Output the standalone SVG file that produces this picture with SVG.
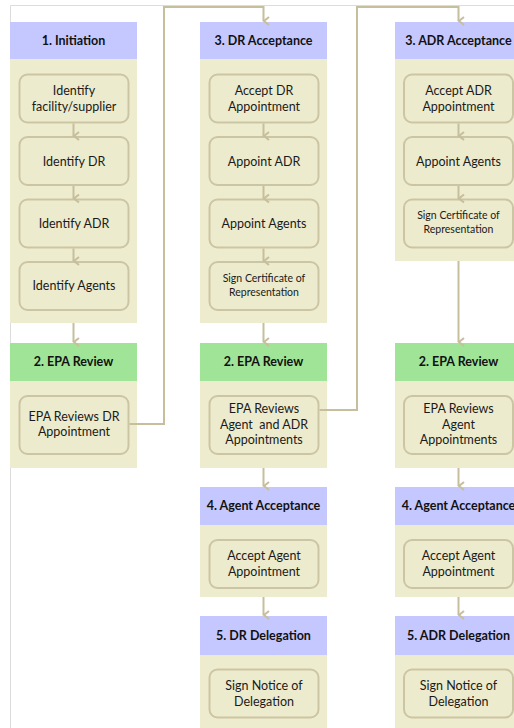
<svg xmlns="http://www.w3.org/2000/svg" width="514" height="728" viewBox="0 0 514 728">
<defs>
<marker id="arr" markerWidth="10" markerHeight="10" refX="5" refY="7.5" orient="auto-start-reverse" markerUnits="userSpaceOnUse" viewBox="0 0 10 10">
<path d="M1,2 L5,7 L9,2" fill="none" stroke="#C6BE9C" stroke-width="2"/>
</marker>
<style>
.bg{fill:#ffffff}
.frame{fill:none;stroke:#DCDCDC;stroke-width:1}
.hb{fill:#C5C8FF}
.hg{fill:#9FE497}
.body{fill:#EEECCE}
.node{fill:#EDEBCD;stroke:#CBC5A4;stroke-width:2}
.ht{font-family:"Lato","Liberation Sans",sans-serif;font-weight:bold;font-size:12.5px;fill:#111;text-anchor:middle}
.nt{font-family:"Lato","Liberation Sans",sans-serif;font-size:12.5px;fill:#1a1a1a;text-anchor:middle}
.st{font-family:"Lato","Liberation Sans",sans-serif;font-size:10.5px;fill:#1a1a1a;text-anchor:middle}
.c{fill:none;stroke:#C6BE9C;stroke-width:2;marker-end:url(#arr)}
</style>
</defs>
<rect class="bg" x="0" y="0" width="514" height="728"/>
<path class="frame" d="M10.5,728 V5.5 H514"/>

<!-- Column 1 -->
<g id="phase-initiation">
<rect class="hb" x="10" y="22" width="127" height="37"/>
<text class="ht" x="73.5" y="45">1. Initiation</text>
<rect class="body" x="10" y="59" width="127" height="264"/>
</g>
<g id="n-identify-facility"><rect class="node" x="19.5" y="74.5" width="109" height="48" rx="8"/><text class="nt" x="74" y="94.5">Identify</text><text class="nt" x="74" y="110.5">facility/supplier</text></g>
<g id="n-identify-dr"><rect class="node" x="19.5" y="137" width="109" height="48" rx="8"/><text class="nt" x="74" y="165.5">Identify DR</text></g>
<g id="n-identify-adr"><rect class="node" x="19.5" y="199.5" width="109" height="48" rx="8"/><text class="nt" x="74" y="227.5">Identify ADR</text></g>
<g id="n-identify-agents"><rect class="node" x="19.5" y="262" width="109" height="48" rx="8"/><text class="nt" x="74" y="290">Identify Agents</text></g>

<g id="phase-epa-review-1">
<rect class="hg" x="10" y="343" width="127" height="38"/>
<text class="ht" x="73.5" y="366">2. EPA Review</text>
<rect class="body" x="10" y="381" width="127" height="87"/>
</g>
<g id="n-epa-reviews-dr"><rect class="node" x="19.5" y="396" width="109" height="58" rx="8"/><text class="nt" x="74" y="420.5">EPA Reviews DR</text><text class="nt" x="74" y="436">Appointment</text></g>

<!-- Column 2 -->
<g id="phase-dr-acceptance">
<rect class="hb" x="200" y="22" width="127" height="37"/>
<text class="ht" x="263.5" y="45">3. DR Acceptance</text>
<rect class="body" x="200" y="59" width="127" height="264"/>
</g>
<g id="n-accept-dr"><rect class="node" x="209.5" y="74.5" width="109" height="48" rx="8"/><text class="nt" x="264" y="94.5">Accept DR</text><text class="nt" x="264" y="110.5">Appointment</text></g>
<g id="n-appoint-adr"><rect class="node" x="209.5" y="137" width="109" height="48" rx="8"/><text class="nt" x="264" y="165.5">Appoint ADR</text></g>
<g id="n-appoint-agents-2"><rect class="node" x="209.5" y="199.5" width="109" height="48" rx="8"/><text class="nt" x="264" y="227.5">Appoint Agents</text></g>
<g id="n-sign-cert-2"><rect class="node" x="209.5" y="262" width="109" height="48" rx="8"/><text class="st" x="264" y="282">Sign Certificate of</text><text class="st" x="264" y="296">Representation</text></g>

<g id="phase-epa-review-2">
<rect class="hg" x="200" y="343" width="127" height="38"/>
<text class="ht" x="263.5" y="366">2. EPA Review</text>
<rect class="body" x="200" y="381" width="127" height="87"/>
</g>
<g id="n-epa-reviews-agent-adr"><rect class="node" x="209.5" y="396" width="109" height="58" rx="8"/><text class="nt" x="264" y="413">EPA Reviews</text><text class="nt" x="264" y="428.5">Agent&#160; and ADR</text><text class="nt" x="264" y="444">Appointments</text></g>

<g id="phase-agent-acceptance-2">
<rect class="hb" x="200" y="487" width="127" height="38"/>
<text class="ht" x="263.5" y="510">4. Agent Acceptance</text>
<rect class="body" x="200" y="525" width="127" height="72"/>
</g>
<g id="n-accept-agent-2"><rect class="node" x="209.5" y="540" width="109" height="48" rx="8"/><text class="nt" x="264" y="560">Accept Agent</text><text class="nt" x="264" y="576">Appointment</text></g>

<g id="phase-dr-delegation">
<rect class="hb" x="200" y="616" width="127" height="39"/>
<text class="ht" x="263.5" y="640">5. DR Delegation</text>
<rect class="body" x="200" y="655" width="127" height="73"/>
</g>
<g id="n-sign-notice-dr"><rect class="node" x="209.5" y="669.5" width="109" height="48" rx="8"/><text class="nt" x="264" y="689.5">Sign Notice of</text><text class="nt" x="264" y="705.5">Delegation</text></g>

<!-- Column 3 -->
<g id="phase-adr-acceptance">
<rect class="hb" x="395" y="22" width="127" height="37"/>
<text class="ht" x="458.5" y="45">3. ADR Acceptance</text>
<rect class="body" x="395" y="59" width="127" height="202"/>
</g>
<g id="n-accept-adr"><rect class="node" x="404" y="74.5" width="109" height="48" rx="8"/><text class="nt" x="458.5" y="94.5">Accept ADR</text><text class="nt" x="458.5" y="110.5">Appointment</text></g>
<g id="n-appoint-agents-3"><rect class="node" x="404" y="137" width="109" height="48" rx="8"/><text class="nt" x="458.5" y="165.5">Appoint Agents</text></g>
<g id="n-sign-cert-3"><rect class="node" x="404" y="199.5" width="109" height="48" rx="8"/><text class="st" x="458.5" y="219">Sign Certificate of</text><text class="st" x="458.5" y="233">Representation</text></g>

<g id="phase-epa-review-3">
<rect class="hg" x="395" y="343" width="127" height="38"/>
<text class="ht" x="458.5" y="366">2. EPA Review</text>
<rect class="body" x="395" y="381" width="127" height="87"/>
</g>
<g id="n-epa-reviews-agent"><rect class="node" x="404" y="396" width="109" height="58" rx="8"/><text class="nt" x="458.5" y="413">EPA Reviews</text><text class="nt" x="458.5" y="428.5">Agent</text><text class="nt" x="458.5" y="444">Appointments</text></g>

<g id="phase-agent-acceptance-3">
<rect class="hb" x="395" y="487" width="127" height="38"/>
<text class="ht" x="458.5" y="510">4. Agent Acceptance</text>
<rect class="body" x="395" y="525" width="127" height="72"/>
</g>
<g id="n-accept-agent-3"><rect class="node" x="404" y="540" width="109" height="48" rx="8"/><text class="nt" x="458.5" y="560">Accept Agent</text><text class="nt" x="458.5" y="576">Appointment</text></g>

<g id="phase-adr-delegation">
<rect class="hb" x="395" y="616" width="127" height="39"/>
<text class="ht" x="458.5" y="640">5. ADR Delegation</text>
<rect class="body" x="395" y="655" width="127" height="73"/>
</g>
<g id="n-sign-notice-adr"><rect class="node" x="404" y="669.5" width="109" height="48" rx="8"/><text class="nt" x="458.5" y="689.5">Sign Notice of</text><text class="nt" x="458.5" y="705.5">Delegation</text></g>

<!-- Connectors -->
<g id="connectors">
<path class="c" d="M73.5,123.5 V136"/>
<path class="c" d="M73.5,186 V198.5"/>
<path class="c" d="M73.5,248.5 V261"/>
<path class="c" d="M73.5,323 V342"/>
<path class="c" d="M129.5,424 H164 V7 H263.5 V21"/>

<path class="c" d="M263.5,123.5 V136"/>
<path class="c" d="M263.5,186 V198.5"/>
<path class="c" d="M263.5,248.5 V261"/>
<path class="c" d="M263.5,323 V342"/>
<path class="c" d="M319.5,410 H357 V7 H458.5 V21"/>
<path class="c" d="M263.5,468 V486"/>
<path class="c" d="M263.5,597 V615"/>

<path class="c" d="M458.5,123.5 V136"/>
<path class="c" d="M458.5,186 V198.5"/>
<path class="c" d="M458.5,261 V342"/>
<path class="c" d="M458.5,468 V486"/>
<path class="c" d="M458.5,597 V615"/>
</g>
</svg>
